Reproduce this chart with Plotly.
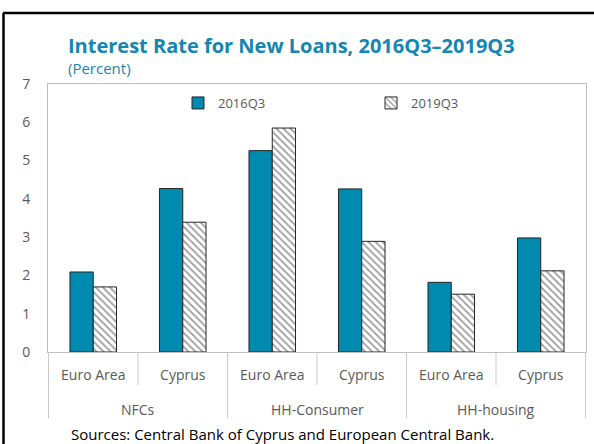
import plotly.graph_objects as go

groups = ["NFCs", "NFCs", "HH-Consumer", "HH-Consumer", "HH-housing", "HH-housing"]
regions = ["Euro Area", "Cyprus", "Euro Area", "Cyprus", "Euro Area", "Cyprus"]
rate_2016q3 = [2.09, 4.27, 5.26, 4.26, 1.82, 2.98]
rate_2019q3 = [1.70, 3.39, 5.85, 2.89, 1.51, 2.12]
y_ticks = [0, 1, 2, 3, 4, 5, 6, 7]
group_names = ["NFCs", "HH-Consumer", "HH-housing"]

TEAL = "#008AB0"
TITLE_C = "#1386B4"
GREY = "#595959"
LINE_GREY = "#C8C8C8"
FONT = "Open Sans"

# body margin is removed in the page, so figure coords == screen coords
W, H = 594, 444
PL, PR, PT, PB = 48, 586, 84, 352           # plot area on screen
L, T = PL, PT
R, B = W - PR, H - PB
pw, ph = PR - PL, PB - PT

def px(x):
    return (x - PL) / pw

def py(y):
    return (PB - y) / ph

x_keys = [g + " | " + r for g, r in zip(groups, regions)]

fig = go.Figure()
fig.add_trace(go.Bar(
    x=x_keys, y=rate_2016q3, name="2016Q3", legend="legend",
    marker=dict(color=TEAL, line=dict(color="#262626", width=1)),
))
fig.add_trace(go.Bar(
    x=x_keys, y=rate_2019q3, name="2019Q3", legend="legend2",
    marker=dict(color="white", line=dict(color="#262626", width=1),
                pattern=dict(shape="\\", fgcolor="#404040", bgcolor="white",
                             size=5, solidity=0.35)),
))

leg_common = dict(orientation="h", xanchor="left", yanchor="middle",
                  font=dict(size=13, color=GREY), bgcolor="rgba(0,0,0,0)",
                  itemclick=False, borderwidth=0)
fig.update_layout(
    width=W, height=H,
    margin=dict(l=L, r=R, t=T, b=B, autoexpand=False),
    paper_bgcolor="white", plot_bgcolor="white",
    barmode="group", bargap=0.48, bargroupgap=0,
    font=dict(family=FONT, color=GREY, size=13),
    showlegend=True,
    legend=dict(x=px(178), y=py(103), **leg_common),
    legend2=dict(x=px(371), y=py(103), **leg_common),
    xaxis=dict(type="category", tickvals=x_keys, ticktext=regions, automargin=False,
               showline=True, linecolor="#BFBFBF", linewidth=1, mirror=True, ticks="",
               tickfont=dict(size=14, color=GREY), ticklabelstandoff=10),
    yaxis=dict(range=[0, 7], tickvals=y_ticks, showgrid=False, showline=True, automargin=False,
               linecolor="#BFBFBF", mirror=True, ticks="", zeroline=False,
               tickfont=dict(size=14, color=GREY), ticklabelstandoff=14),
)

shapes = [
    dict(type="line", xref="paper", yref="paper", x0=px(3), x1=px(610), y0=py(13), y1=py(13),
         line=dict(color="black", width=2.5)),
    dict(type="line", xref="paper", yref="paper", x0=px(3.5), x1=px(3.5), y0=py(13), y1=py(460),
         line=dict(color="black", width=2.5)),
]
# dividers: full height between groups, short between regions
for i in range(len(group_names) + 1):
    shapes.append(dict(type="line", xref="x", yref="paper", x0=2 * i - 0.5, x1=2 * i - 0.5,
                       y0=0, y1=py(418), line=dict(color=LINE_GREY, width=1)))
for i in range(len(group_names)):
    shapes.append(dict(type="line", xref="x", yref="paper", x0=2 * i + 0.5, x1=2 * i + 0.5,
                       y0=0, y1=py(385), line=dict(color=LINE_GREY, width=1)))
fig.update_layout(shapes=shapes)

for i, g in enumerate(group_names):
    fig.add_annotation(text=g, xref="x", yref="paper", x=2 * i + 0.5, y=py(409),
                       xanchor="center", yanchor="middle", showarrow=False,
                       font=dict(size=14, color=GREY, family=FONT))

fig.add_annotation(text="<b>Interest Rate for New Loans, 2016Q3\u20132019Q3</b>",
                   xref="paper", yref="paper", x=px(66), y=py(45), xanchor="left", yanchor="middle",
                   showarrow=False, font=dict(size=20, color=TITLE_C, family=FONT))
fig.add_annotation(text="(Percent)", xref="paper", yref="paper", x=px(66), y=py(68),
                   xanchor="left", yanchor="middle", showarrow=False,
                   font=dict(size=15, color=TITLE_C, family=FONT))
fig.add_annotation(text="Sources: Central Bank of Cyprus and European Central Bank.",
                   xref="paper", yref="paper", x=px(282), y=py(434), xanchor="center",
                   yanchor="middle", showarrow=False,
                   font=dict(size=15, color="#000000", family=FONT))

fig.write_html("out.html", config={"displayModeBar": False},
               post_script="document.body.style.margin='0px';")
